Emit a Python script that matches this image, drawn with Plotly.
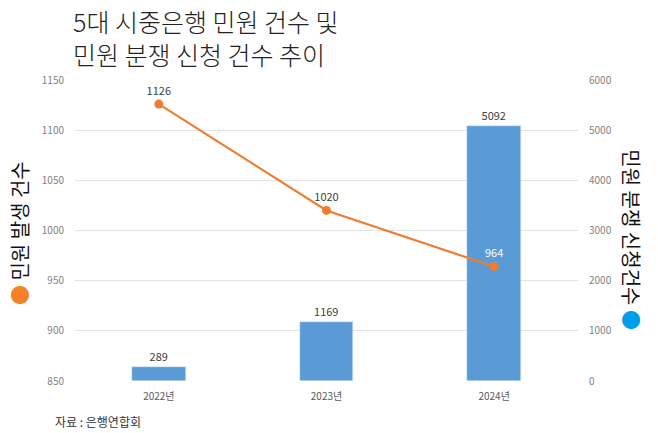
import plotly.graph_objects as go

years = ["2022년", "2023년", "2024년"]
complaints = [1126, 1020, 964]          # 민원 발생 건수 (left axis)
disputes = [289, 1169, 5092]            # 민원 분쟁 신청건수 (right axis)
line_label_colors = ["#404040", "#404040", "#ffffff"]

FONT = "Noto Sans CJK KR"
ORANGE = "#ED7D31"
BLUE = "#5B9BD5"

fig = go.Figure()
fig.add_trace(go.Bar(
    x=years, y=disputes, yaxis="y", marker_color=BLUE, width=0.32,
    text=[str(v) for v in disputes], textposition="outside",
    textfont=dict(size=11, color="#404040", family=FONT), cliponaxis=False,
    showlegend=False))
fig.add_trace(go.Scatter(
    x=years, y=complaints, yaxis="y2", mode="lines+markers+text",
    line=dict(color=ORANGE, width=2.2), marker=dict(size=9, color=ORANGE),
    text=[str(v) for v in complaints], textposition="top center",
    textfont=dict(size=11, color=line_label_colors, family=FONT),
    cliponaxis=False, showlegend=False))

fig.update_layout(
    width=658, height=433, paper_bgcolor="white", plot_bgcolor="white",
    margin=dict(l=75, r=80, t=80, b=52),
    font=dict(family=FONT, color="#595959"),
    bargap=0,
    xaxis=dict(showgrid=False, showline=False, ticks="", tickfont=dict(size=10, color="#595959"),
               ticklabelstandoff=8),
    yaxis=dict(side="right", range=[0, 6000], dtick=1000, showgrid=False, zeroline=False,
               tickfont=dict(size=10, color="#7f7f7f"), ticklabelstandoff=10),
    yaxis2=dict(side="left", overlaying="y", range=[850, 1150], dtick=50, showgrid=True,
                gridcolor="#e3e3e3", gridwidth=1, zeroline=False,
                tickfont=dict(size=10, color="#7f7f7f"), ticklabelstandoff=10),
    annotations=[
        dict(text="5대 시중은행 민원 건수 및<br>민원 분쟁 신청 건수 추이", xref="paper", yref="paper",
             x=-0.008, y=1.262, xanchor="left", yanchor="top", align="left", showarrow=False,
             font=dict(size=25, color="#222222", family=FONT, weight=300)),
        dict(text="<span style='color:#F58025'>●</span> 민원 발생 건수", xref="paper", yref="paper",
             x=-0.109, y=0.492, xanchor="center", yanchor="middle", textangle=-90, showarrow=False,
             font=dict(size=20, color="#111111", family=FONT)),
        dict(text="민원 분쟁 신청건수 <span style='color:#00A0E9'>●</span>", xref="paper", yref="paper",
             x=1.107, y=0.468, xanchor="center", yanchor="middle", textangle=90, showarrow=False,
             font=dict(size=20, color="#111111", family=FONT)),
        dict(text="자료 : 은행연합회", xref="paper", yref="paper",
             x=-0.044, y=-0.133, xanchor="left", yanchor="middle", showarrow=False,
             font=dict(size=12, color="#333333", family=FONT)),
    ],
)

fig.write_html("out.html")
